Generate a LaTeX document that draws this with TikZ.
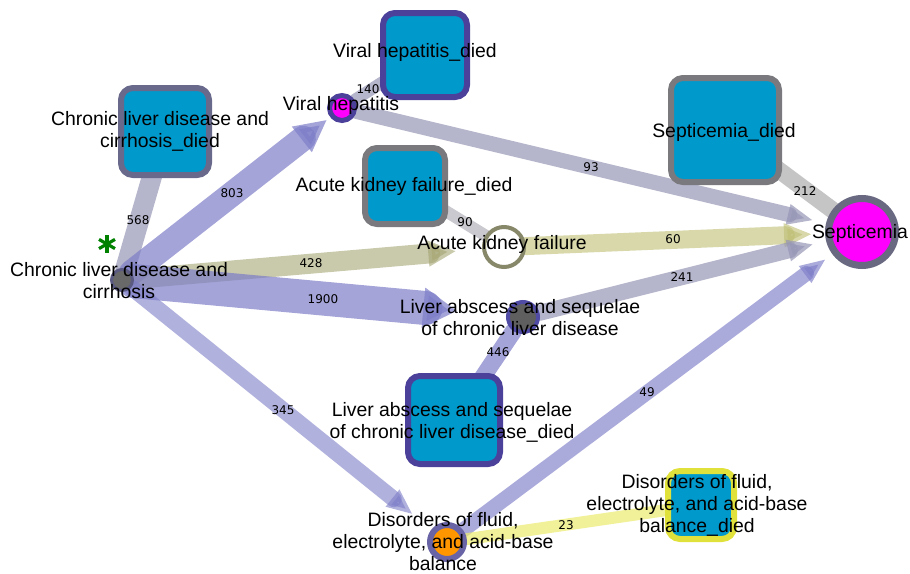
\documentclass[tikz,border=0pt]{standalone}
\usepackage{fontspec}
\setmainfont{Liberation Sans}
\newfontfamily\edgefont{DejaVu Sans}
\usetikzlibrary{arrows.meta,calc}
\pgfdeclarelayer{edges}
\pgfsetlayers{edges,main}
\definecolor{boxblue}{RGB}{0,153,204}
\definecolor{bp}{RGB}{125,125,200}
\definecolor{gp}{RGB}{150,150,182}
\definecolor{gy}{RGB}{165,165,175}
\definecolor{ol}{RGB}{165,165,115}
\definecolor{oly}{RGB}{190,190,115}
\definecolor{yl}{RGB}{235,235,110}
\definecolor{gr}{RGB}{150,150,150}
\definecolor{bordgp}{RGB}{105,105,140}
\definecolor{bordbp}{RGB}{75,65,155}
\definecolor{bordgray}{RGB}{122,122,126}
\definecolor{bordyl}{RGB}{225,225,60}
\definecolor{magent}{RGB}{255,0,255}
\definecolor{orng}{RGB}{255,150,0}
\definecolor{akfb}{RGB}{135,135,105}
\definecolor{sepb}{RGB}{105,105,130}
\definecolor{starg}{RGB}{0,130,0}
\tikzset{
  diedbox/.style={draw=#1, line width=6pt, rounded corners=12pt, fill=boxblue, inner sep=0pt},
  dot/.style={circle, inner sep=0pt},
  band/.style={line width=#1, line cap=round},
  nlabel/.style={font=\fontsize{19.4}{22}\selectfont, align=center, inner sep=0pt, text=black},
  elabel/.style={font=\edgefont\fontsize{12}{14}\selectfont, inner sep=0pt, text=black},
}
\begin{document}
\begin{tikzpicture}[x=1pt,y=-1pt]
\useasboundingbox (0,0) rectangle (910,573);

% ---- died boxes
\node[diedbox=bordgp, minimum width=88pt, minimum height=87pt] (CLDd) at (165,131.5) {};
\node[diedbox=bordbp, minimum width=84pt, minimum height=84pt] (VHd) at (425,55) {};
\node[diedbox=bordgray, minimum width=80pt, minimum height=76pt] (AKFd) at (405,186) {};
\node[diedbox=bordgray, minimum width=108pt, minimum height=104pt] (Sepd) at (725,130) {};
\node[diedbox=bordbp, minimum width=92pt, minimum height=88pt] (LAd) at (454,420) {};
\node[diedbox=bordyl, minimum width=66pt, minimum height=68pt] (DFd) at (701,505) {};

% ---- circle nodes
\node[dot, draw={rgb,255:red,90;green,90;blue,130}, line width=3pt, fill={rgb,255:red,105;green,105;blue,105}, minimum size=21pt] (CLD) at (122,280) {};
\node[dot, draw=bordbp, line width=5pt, fill=magent, minimum size=25pt] (VH) at (342,108) {};
\node[dot, draw=akfb, line width=4pt, fill=white, minimum size=40pt] (AKF) at (504,247) {};
\node[dot, draw=sepb, line width=7pt, fill=magent, minimum size=67pt] (Sep) at (862,232) {};
\node[dot, draw={rgb,255:red,80;green,75;blue,165}, line width=4pt, fill={rgb,255:red,95;green,95;blue,95}, minimum size=30pt] (LA) at (523,317) {};
\node[dot, draw={rgb,255:red,105;green,100;blue,165}, line width=6pt, fill=orng, minimum size=34pt] (DF) at (447,542) {};

% ---- edges
\begin{pgfonlayer}{edges}
\draw[band=20pt, draw=gp, opacity=0.7] (CLD) -- (CLDd.center);
\draw[band=25pt, draw=bp, opacity=0.7, -{Triangle[length=32pt,width=30pt]}, shorten >=19pt] (CLD) -- (VH.center);
\draw[band=20pt, draw=ol, opacity=0.6, -{Triangle[length=28pt,width=24pt]}, shorten >=48pt] (CLD) -- (AKF.center);
\draw[band=34pt, draw=bp, opacity=0.7, -{Triangle[length=34pt,width=38pt]}, shorten >=66pt] (CLD) -- (LA.center);
\draw[band=16pt, draw=bp, opacity=0.6, -{Triangle[length=26pt,width=20pt]}, shorten >=44pt] (CLD) -- (DF.center);
\draw[band=12pt, draw=gp, opacity=0.7] (VH) -- (VHd.center);
\draw[band=15pt, draw=gp, opacity=0.7, -{Triangle[length=26pt,width=19pt]}, shorten >=50pt] (VH) -- (Sep.center);
\draw[band=12pt, draw=gy, opacity=0.6] (AKF) -- (AKFd.center);
\draw[band=18pt, draw=oly, opacity=0.6, -{Triangle[length=28pt,width=22pt]}, shorten >=50pt] (AKF) -- (Sep.center);
\draw[band=16pt, draw=gp, opacity=0.7, -{Triangle[length=26pt,width=20pt]}, shorten >=50pt] (LA) -- (Sep.center);
\draw[band=17pt, draw=bp, opacity=0.7] (LA) -- (LAd.center);
\draw[band=15pt, draw=bp, opacity=0.65, -{Triangle[length=26pt,width=19pt]}, shorten >=45pt] (DF) -- (Sep.center);
\draw[band=12pt, draw=yl, opacity=0.7] (DF) -- (DFd.center);
\draw[band=17pt, draw=gr, opacity=0.55] (Sep) -- (Sepd.center);
\end{pgfonlayer}

% ---- edge labels
\node[elabel] (e568) at (138,220) {568};
\node[elabel] (e803) at (232,193) {803};
\node[elabel] (e428) at (311,263) {428};
\node[elabel] (e1900) at (323,299) {1900};
\node[elabel] (e345) at (283,410) {345};
\node[elabel] (e140) at (368,89) {140};
\node[elabel] (e93) at (591,167) {93};
\node[elabel] (e90) at (465,222) {90};
\node[elabel] (e60) at (673,239) {60};
\node[elabel] (e241) at (682,277) {241};
\node[elabel] (e446) at (498,352) {446};
\node[elabel] (e49) at (647,392) {49};
\node[elabel] (e23) at (566,525) {23};
\node[elabel] (e212) at (805,191) {212};

% ---- node labels
\node[nlabel] (CLDl) at (119,281) {Chronic liver disease and\\cirrhosis};
\node[nlabel] (CLDdl) at (160,131) {Chronic liver disease and\\cirrhosis\_died};
\node[nlabel] (VHl) at (341,105) {Viral hepatitis};
\node[nlabel] (VHdl) at (415,52) {Viral hepatitis\_died};
\node[nlabel] (AKFdl) at (404,186) {Acute kidney failure\_died};
\node[nlabel] (AKFl) at (502,244) {Acute kidney failure};
\node[nlabel] (Sepdl) at (724,132) {Septicemia\_died};
\node[nlabel] (Sepl) at (860,233) {Septicemia};
\node[nlabel] (LAl) at (520,318) {Liver abscess and sequelae\\of chronic liver disease};
\node[nlabel] (LAdl) at (452,422) {Liver abscess and sequelae\\of chronic liver disease\_died};
\node[nlabel] (DFl) at (443,542) {Disorders of fluid,\\electrolyte, and acid-base\\balance};
\node[nlabel] (DFdl) at (697,505) {Disorders of fluid,\\electrolyte, and acid-base\\balance\_died};

% ---- green asterisk
\coordinate (star) at (107,244);
\draw[starg, line width=3.2pt] ($(star)+(0,-9)$) -- ($(star)+(0,9)$);
\draw[starg, line width=3.2pt] ($(star)+(-8,-4.6)$) -- ($(star)+(8,4.6)$);
\draw[starg, line width=3.2pt] ($(star)+(-8,4.6)$) -- ($(star)+(8,-4.6)$);
\end{tikzpicture}
\end{document}
